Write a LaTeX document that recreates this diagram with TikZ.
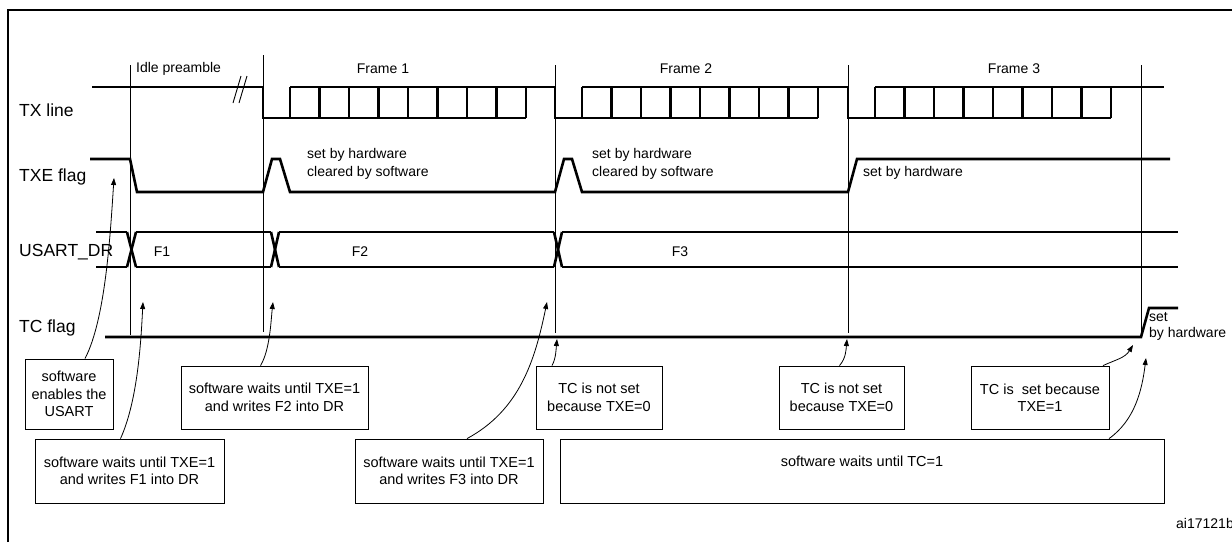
\documentclass[tikz,border=0pt]{standalone}
\usepackage{fontspec}
\setmainfont{Liberation Sans}
\usetikzlibrary{arrows.meta}
\begin{document}
\begin{tikzpicture}[x=1pt,y=-1pt,
  sig/.style={line width=2.6pt,line join=miter},
  thin/.style={line width=0.8pt},
  box/.style={draw,line width=0.8pt,align=center,font=\fontsize{14.5}{17.5}\selectfont,inner sep=0pt},
  lbl/.style={font=\fontsize{17.5}{20}\selectfont,anchor=west,inner sep=0pt},
  txt/.style={font=\fontsize{14}{16.5}\selectfont,anchor=west,inner sep=0pt},
  arr/.style={line width=0.8pt,-{Triangle[length=7pt,width=5pt]}}]
\useasboundingbox (0,0) rectangle (1232,542);
\fill[white] (0,0) rectangle (1232,542);
% frame
\draw[line width=1.2pt] (8,542) -- (8,10) -- (1232,10);
% labels
\node[lbl] (ltx) at (19,110) {TX line};
\node[lbl] (ltxe) at (19,177) {TXE flag};
\node[lbl] (ldr) at (19,252) {USART\_DR};
\node[lbl] (ltc) at (19,328) {TC flag};
% vertical lines
\draw[thin] (130,65) -- (130,335);
\draw[thin] (263,55) -- (263,332);
\draw[thin] (555,65) -- (555,333);
\draw[thin] (848,65) -- (848,333);
\draw[thin] (1141,65) -- (1141,338);
% frame labels
\node[txt] (idle) at (136,69) {Idle preamble};
\node[txt,anchor=center] (f1l) at (383,69) {Frame 1};
\node[txt,anchor=center] (f2l) at (686,69) {Frame 2};
\node[txt,anchor=center] (f3l) at (1014,69) {Frame 3};
% TX line
\draw[sig] (92,87) -- (263,87) -- (263,118);
\foreach \xo/\xe in {263/555, 555/848, 848/1164}{
  \draw[sig] (\xo,87) -- (\xo,118) -- (\xo+263,118);
  \draw[sig] (\xo+27,87) -- (\xe,87);
  \foreach \i in {0,...,8}{ \draw[sig] (\xo+27+29.5*\i,87) -- (\xo+27+29.5*\i,118); }
}
% break marks
\draw[line width=0.9pt] (233,103) -- (241,76);
\draw[line width=0.9pt] (239,103) -- (247,76);
% TXE flag
\draw[sig] (90,159) -- (130,159) -- (137,192) -- (263,192) -- (272,159) -- (280,159) -- (290,192)
  -- (555,192) -- (564,159) -- (572,159) -- (582,192) -- (848,192) -- (857,159) -- (1170,159);
\node[txt] (t1a) at (307,155) {set by hardware};
\node[txt] (t1b) at (307,173) {cleared by software};
\node[txt] (t2a) at (592,155) {set by hardware};
\node[txt] (t2b) at (592,173) {cleared by software};
\node[txt] (t3a) at (863,173) {set by hardware};
% USART_DR
\foreach \a/\b in {96/127, 136/271, 279/554, 562/1178}{
  \draw[sig] (\a,232) -- (\b,232);
  \draw[sig] (\a,267) -- (\b,267);
}
\foreach \a/\b in {127/136, 271/279, 554/562}{
  \draw[sig] (\a,232) -- (\b,267);
  \draw[sig] (\a,267) -- (\b,232);
}
\node[txt,anchor=center] (F1) at (162,252) {F1};
\node[txt,anchor=center] (F2) at (360,252) {F2};
\node[txt,anchor=center] (F3) at (680,252) {F3};
% TC flag
\draw[sig] (105,337) -- (1141,337) -- (1149,308) -- (1178,308);
\node[txt,align=left,anchor=north west] (tchw) at (1149,312) {set\\by hardware};
% boxes
\node[box,minimum width=88pt,minimum height=70pt] (ben) at (69,394) {software\\enables the\\USART};
\node[box,minimum width=187pt,minimum height=63pt] (bf2) at (274.5,397.5) {software waits until TXE=1\\ and writes F2 into DR};
\node[box,minimum width=189pt,minimum height=64pt] (bf1) at (129.5,471) {software waits until TXE=1\\ and writes F1 into DR};
\node[box,minimum width=188pt,minimum height=64pt] (bf3) at (449,471) {software waits until TXE=1\\ and writes F3 into DR};
\node[box,minimum width=126pt,minimum height=63pt] (bn1) at (599,397.5) {TC is not set\\because TXE=0};
\node[box,minimum width=125pt,minimum height=63pt] (bn2) at (841.5,397.5) {TC is not set\\because TXE=0};
\node[box,minimum width=138pt,minimum height=63pt] (bs) at (1040,397.5) {TC is\ \ set because\\TXE=1};
\node[box,minimum width=604pt,minimum height=64pt] (btc) at (862,471) {};
\node[font=\fontsize{14.5}{17}\selectfont,inner sep=0pt] (btct) at (862,461) {software waits until TC=1};
\node[font=\fontsize{14}{16}\selectfont,anchor=east,inner sep=0pt] (ref) at (1234,523) {ai17121b};
% arrow targets
\coordinate (p0) at (114,178);
\coordinate (p1) at (143,302);
\coordinate (p2) at (273,302);
\coordinate (p3) at (547,302);
\coordinate (p4) at (557,339);
\coordinate (p5) at (847,339);
\coordinate (p6) at (1133,345);
\coordinate (p7) at (1146,358);
\draw[arr] (ben.north) ++(16,0) .. controls (105,320) and (110,240) .. (p0);
\draw[arr] (bf1.north) ++(-9,0) .. controls (138,400) and (141,340) .. (p1);
\draw[arr] (bf2.north) ++(-14,0) .. controls (270,350) and (271,320) .. (p2);
\draw[arr] (bf3.north) ++(18,0) .. controls (520,410) and (535,360) .. (p3);
\draw[arr] (bn1.north) ++(-47,0) .. controls (556,358) and (556,350) .. (p4);
\draw[arr] (bn2.north) ++(-2,0) .. controls (846,358) and (846,350) .. (p5);
\draw[arr] (bs.north) ++(63,0) .. controls (1115,360) and (1125,358) .. (p6);
\draw[arr] (btc.north) ++(247,0) .. controls (1135,420) and (1142,390) .. (p7);
\end{tikzpicture}
\end{document}
